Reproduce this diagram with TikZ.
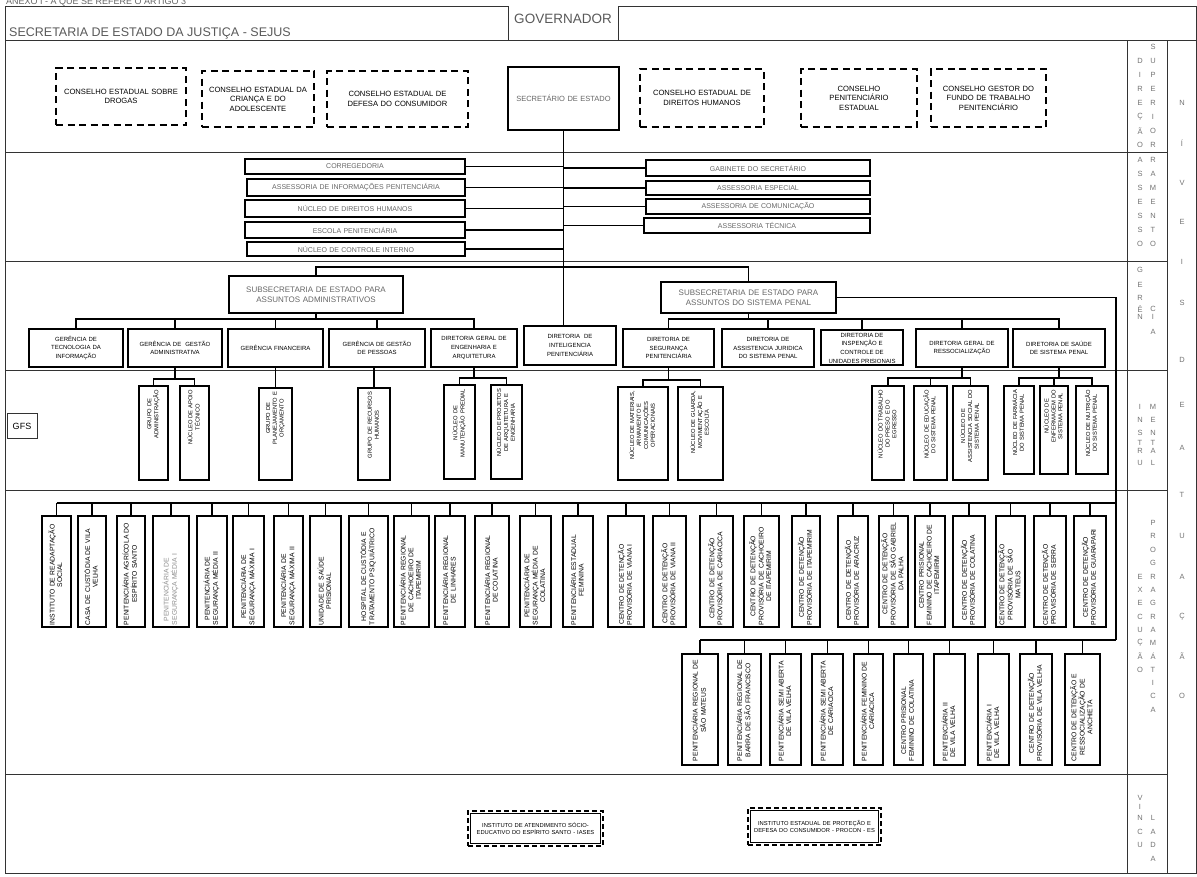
\documentclass[tikz,border=0pt]{standalone}
\usepackage{fontspec}
\setmainfont{Liberation Sans}
\usetikzlibrary{calc}
\newcommand\hb[7]{%
 \pgfmathsetmacro\bxw{(#4)-(#2)}\pgfmathsetmacro\bxh{(#5)-(#3)}\pgfmathsetmacro\bxt{\bxw-4}%
 \pgfmathsetmacro\bxcx{((#2)+(#4))/2}\pgfmathsetmacro\bxcy{((#3)+(#5))/2}%
 \node[#6, minimum width=\bxw pt, minimum height=\bxh pt, text width=\bxt pt] (#1) at (\bxcx,\bxcy) {#7};}
\newcommand\vb[9]{%
 \pgfmathsetmacro\bxw{(#4)-(#2)}\pgfmathsetmacro\bxh{(#5)-(#3)}\pgfmathsetmacro\bxt{\bxh-2*(#9)}%
 \pgfmathsetmacro\bxcx{((#2)+(#4))/2}\pgfmathsetmacro\bxcy{((#3)+(#5))/2}%
 \node[#6, rotate=90, minimum width=\bxh pt, minimum height=\bxw pt, text width=\bxt pt, align=#8] (#1) at (\bxcx,\bxcy) {\begin{tabular}{@{}c@{}}#7\end{tabular}};}
\tikzset{
 fr/.style={line width=0.9pt, draw=black!80},
 cn/.style={line width=1.3pt, draw=black},
 cbox/.style={draw, line width=2pt, dash pattern=on 7pt off 4.5pt, align=center, inner sep=1pt, font=\fontsize{7.6}{9.6}\selectfont},
 sbox/.style={draw, line width=1.8pt, align=center, inner sep=1pt},
 secb/.style={sbox, font=\fontsize{7.5}{9}\selectfont, text=black!60},
 asb/.style={sbox, line width=1.6pt, font=\fontsize{7}{8}\selectfont, text=black!60},
 subb/.style={sbox, font=\fontsize{8}{10.5}\selectfont, text=black!60},
 dirb/.style={sbox, line width=2pt, font=\fontsize{6}{8.6}\selectfont},
 insb/.style={draw, line width=1.8pt, inner sep=0.5pt, font=\fontsize{5.8}{6.8}\selectfont},
 exb/.style={draw, line width=1.7pt, inner sep=0.5pt, font=\fontsize{6.8}{7.6}\selectfont},
 lt/.style={font=\fontsize{7.5}{8}\selectfont, text=black!55, inner sep=0pt},
 vin/.style={draw, line width=1.6pt, dash pattern=on 5pt off 3pt, align=center, inner sep=1pt, font=\fontsize{5.8}{7.6}\selectfont},
}
\begin{document}
\begin{tikzpicture}[x=1pt,y=-1pt]
\useasboundingbox (0,0) rectangle (1197,876);
% header
\node[anchor=base west, font=\fontsize{9}{10}\selectfont, text=black!60, inner sep=0] (anexo) at (6,4.5) {ANEXO I - A QUE SE REFERE O ARTIGO 3};
\draw[fr] (5,40) -- (5,6) -- (508,6) -- (508,40);
\draw[fr] (618,40) -- (618,6) -- (1196,6) -- (1196,873) -- (5,873) -- (5,40) -- (1196,40);
\node[anchor=base west, font=\fontsize{12.5}{13}\selectfont, text=black!65, inner sep=0] (hdr) at (9,36) {SECRETARIA DE ESTADO DA JUSTIÇA - SEJUS};
\node[anchor=base, font=\fontsize{13.5}{14}\selectfont, text=black!65, inner sep=0] (gov) at (563,23) {GOVERNADOR};
\foreach \y in {152,261,370,490,774} \draw[fr] (5,\y) -- (1167,\y);
\draw[fr] (1127,40) -- (1127,873);
\draw[fr] (1167,40) -- (1167,873);
\node[draw=black!80, fill=white, line width=0.9pt, minimum width=30pt, minimum height=25pt, inner sep=0, font=\fontsize{9}{10}\selectfont] (gfs) at (22,426) {GFS};

% band 1
\hb{c1}{56}{68}{186}{125}{cbox}{CONSELHO ESTADUAL SOBRE\\DROGAS}
\hb{c2}{202}{71}{314}{127}{cbox}{CONSELHO ESTADUAL DA\\CRIANÇA E DO\\ADOLESCENTE}
\hb{c3}{327}{71}{468}{127}{cbox}{CONSELHO ESTADUAL DE\\DEFESA DO CONSUMIDOR}
\hb{sec}{508}{67}{619}{130}{secb}{SECRETÁRIO DE ESTADO}
\hb{c5}{640}{69}{764}{127}{cbox}{CONSELHO ESTADUAL DE\\DIREITOS HUMANOS}
\hb{c6}{801}{69}{917}{127}{cbox}{CONSELHO\\PENITENCIÁRIO\\ESTADUAL}
\hb{c7}{931}{69}{1046}{127}{cbox}{CONSELHO GESTOR DO\\FUNDO DE TRABALHO\\PENITENCIÁRIO}

% band 2
\hb{a1}{245}{159}{465}{174}{asb}{CORREGEDORIA}
\hb{a2}{247}{179}{465}{196}{asb}{ASSESSORIA DE INFORMAÇÕES PENITENCIÁRIA}
\hb{a3}{245}{200}{465}{217}{asb}{NÚCLEO DE DIREITOS HUMANOS}
\hb{a4}{245}{222}{465}{238}{asb}{ESCOLA PENITENCIÁRIA}
\hb{a5}{247}{242}{465}{256}{asb}{NÚCLEO DE CONTROLE INTERNO}
\hb{b1}{646}{160}{870}{176}{asb}{GABINETE DO SECRETÁRIO}
\hb{b2}{646}{181}{870}{195}{asb}{ASSESSORIA ESPECIAL}
\hb{b3}{646}{199}{870}{214}{asb}{ASSESSORIA DE COMUNICAÇÃO}
\hb{b4}{644}{218}{870}{233}{asb}{ASSESSORIA TÉCNICA}

% band 3
\hb{sa}{229}{276}{403}{313}{subb}{SUBSECRETARIA DE ESTADO PARA\\ASSUNTOS ADMINISTRATIVOS}
\hb{sp}{661}{282}{836}{313}{subb}{SUBSECRETARIA DE ESTADO PARA\\ASSUNTOS DO SISTEMA PENAL}
\hb{d1}{29}{329}{123}{367}{dirb}{GERÊNCIA DE\\TECNOLOGIA DA\\INFORMAÇÃO}
\hb{d2}{128}{329}{222}{367}{dirb}{GERÊNCIA DE~~GESTÃO\\ADMINISTRATIVA}
\hb{d3}{228}{329}{323}{367}{dirb}{GERÊNCIA FINANCEIRA}
\hb{d4}{329}{329}{425}{367}{dirb}{GERÊNCIA DE GESTÃO\\DE PESSOAS}
\hb{d5}{431}{329}{517}{367}{dirb}{DIRETORIA GERAL DE\\ENGENHARIA E\\ARQUITETURA}
\hb{d6}{524}{326}{616}{365}{dirb}{DIRETORIA~~DE\\INTELIGENCIA\\PENITENCIÁRIA}
\hb{d7}{623}{329}{714}{367}{dirb}{DIRETORIA DE\\SEGURANÇA\\PENITENCIÁRIA}
\hb{d8}{722}{329}{814}{367}{dirb}{DIRETORIA DE\\ASSISTENCIA JURIDICA\\DO SISTEMA PENAL}
\hb{d9}{821}{330}{903}{365}{dirb}{}
\node[anchor=north, align=center, inner sep=0, font=\fontsize{6}{8.6}\selectfont] (d9t) at ($(d9.north)+(0,4)$) {DIRETORIA DE\\INSPENÇÃO E\\CONTROLE DE\\UNIDADES PRISIONAIS};
\hb{d10}{916}{329}{1008}{367}{dirb}{DIRETORIA GERAL DE\\RESSOCIALIZAÇÃO}
\hb{d11}{1013}{329}{1105}{367}{dirb}{DIRETORIA DE SAÚDE\\DE SISTEMA PENAL}

% band 4
\vb{i1}{139}{386}{168}{480}{insb}{GRUPO DE\\ADMINISTRAÇÃO}{right}{4}
\vb{i2}{180}{386}{209}{480}{insb}{NÚCLEO DE APOIO\\TÉCNICO}{right}{4}
\vb{i3}{259}{388}{292}{480}{insb}{GRUPO DE\\PLANEJAMENTO E\\ORÇAMENTO}{right}{4}
\vb{i4}{358}{388}{390}{480}{insb}{GRUPO DE RECURSOS\\HUMANOS}{right}{4}
\vb{i5}{444}{385}{475}{479}{insb}{NÚCLEO DE\\MANUTENÇÃO PREDIAL}{right}{4}
\vb{i6}{491}{385}{522}{479}{insb}{NÚCLEO DE PROJETOS\\DE ARQUITETURA E\\ENGENHARIA}{right}{4}
\vb{i7}{618}{387}{668}{480}{insb}{NÚCLEO DE MATERIAIS,\\ARMAMENTO E\\COMUNICAÇÕES\\OPERACIONAIS}{right}{4}
\vb{i8}{678}{387}{723}{480}{insb}{NÚCLEO DE GUARDA,\\MOVIMENTAÇÃO E\\ESCOLTA}{right}{4}
\vb{i9}{872}{386}{904}{480}{insb}{NÚCLEO DO TRABALHO\\DO PRESO E DO\\EGRESSO}{right}{4}
\vb{i10}{914}{386}{947}{480}{insb}{NÚCLEO DE EDUCAÇÃO\\DO SISTEMA PENAL}{right}{4}
\vb{i11}{953}{386}{988}{480}{insb}{NÚCLEO DE\\ASSISTENCIA SOCIAL DO\\SISTEMA PENAL}{right}{4}
\vb{i12}{1004}{386}{1034}{474}{insb}{NÚCLEO DE FARMÁCIA\\DO SISTEMA PENAL}{right}{4}
\vb{i13}{1040}{386}{1068}{474}{insb}{NÚCLEO DE\\ENFERMAGEM DO\\SISTEMA PENAL}{right}{4}
\vb{i14}{1076}{386}{1108}{474}{insb}{NÚCLEO DE NUTRIÇÃO\\DO SISTEMA PENAL}{right}{4}

% band 5 upper
\vb{p1}{42}{516}{71}{627}{exb}{INSTITUTO DE READAPTAÇÃO\\SOCIAL}{left}{2}
\vb{p2}{78}{516}{106}{627}{exb}{CASA DE CUSTÓDIA DE VILA\\VELHA}{left}{2}
\vb{p3}{117}{516}{145}{627}{exb}{PENITENCIÁRIA AGRÍCOLA DO\\ESPÍRITO SANTO}{left}{2}
\vb{p4}{153}{516}{189}{627}{exb,text=black!45}{PENITENCIÁRIA DE\\SEGURANÇA MÉDIA I}{left}{2}
\vb{p5}{197}{516}{227}{627}{exb}{PENITENCIÁRIA DE\\SEGURANÇA MÉDIA II}{left}{2}
\vb{p6}{233}{516}{264}{627}{exb}{PENITENCIÁRIA DE\\SEGURANÇA MÁXIMA I}{left}{2}
\vb{p7}{274}{516}{303}{627}{exb}{PENITENCIÁRIA DE\\SEGURANÇA MÁXIMA II}{left}{2}
\vb{p8}{310}{516}{341}{627}{exb}{UNIDADE DE SAÚDE\\PRISIONAL}{left}{2}
\vb{p9}{349}{516}{388}{627}{exb}{HOSPITAL DE CUSTÓDIA E\\TRATAMENTO PSIQUIÁTRICO}{left}{2}
\vb{p10}{394}{516}{429}{627}{exb}{PENITENCIÁRIA REGIONAL\\DE CACHOEIRO DE\\ITAPEMIRIM}{left}{2}
\vb{p11}{435}{516}{465}{627}{exb}{PENITENCIÁRIA REGIONAL\\DE LINHARES}{left}{2}
\vb{p12}{475}{516}{509}{627}{exb}{PENITENCIÁRIA REGIONAL\\DE COLATINA}{left}{2}
\vb{p13}{520}{516}{551}{627}{exb}{PENITENCIÁRIA DE\\SEGURANÇA MÉDIA DE\\COLATINA}{left}{2}
\vb{p14}{563}{516}{593}{627}{exb}{PENITENCIÁRIA ESTADUAL\\FEMININA}{left}{2}
\vb{p15}{608}{516}{644}{627}{exb}{CENTRO DE DETENÇÃO\\PROVISÓRIA DE VIANA I}{left}{2}
\vb{p16}{653}{516}{686}{627}{exb}{CENTRO DE DETENÇÃO\\PROVISÓRIA DE VIANA II}{left}{2}
\vb{p17}{700}{516}{733}{627}{exb}{CENTRO DE DETENÇÃO\\PROVISÓRIA DE CARIACICA}{left}{2}
\vb{p18}{744}{516}{779}{627}{exb}{CENTRO DE DETENÇÃO\\PROVISÓRIA DE CACHOEIRO\\DE ITAPEMIRIM}{left}{2}
\vb{p19}{792}{516}{820}{627}{exb}{CENTRO DE DETENÇÃO\\PROVISÓRIA DE ITAPEMIRIM}{left}{2}
\vb{p20}{838}{516}{868}{627}{exb}{CENTRO DE DETENÇÃO\\PROVISÓRIA DE ARACRUZ}{left}{2}
\vb{p21}{879}{516}{908}{627}{exb}{CENTRO DE DETENÇÃO\\PROVISÓRIA DE SÃO GABRIEL\\DA PALHA}{left}{2}
\vb{p22}{915}{516}{945}{627}{exb}{CENTRO PRISIONAL\\FEMININO DE CACHOEIRO DE\\ITAPEMIRIM}{left}{2}
\vb{p23}{953}{516}{985}{627}{exb}{CENTRO DE DETENÇÃO\\PROVISÓRIA DE COLATINA}{left}{2}
\vb{p24}{996}{516}{1025}{627}{exb}{CENTRO DE DETENÇÃO\\PROVISÓRIA DE SÃO\\MATEUS}{left}{2}
\vb{p25}{1034}{516}{1066}{627}{exb}{CENTRO DE DETENÇÃO\\PROVISÓRIA DE SERRA}{left}{2}
\vb{p26}{1074}{516}{1106}{627}{exb}{CENTRO DE DETENÇÃO\\PROVISÓRIA DE GUARAPARI}{left}{2}

% band 5 lower
\vb{q1}{682}{654}{718}{765}{exb}{PENITENCIÁRIA REGIONAL DE\\SÃO MATEUS}{left}{4}
\vb{q2}{728}{654}{761}{765}{exb}{PENITENCIÁRIA REGIONAL DE\\BARRA DE SÃO FRANCISCO}{left}{4}
\vb{q3}{770}{654}{801}{765}{exb}{PENITENCIÁRIA SEMI ABERTA\\DE VILA VELHA}{left}{4}
\vb{q4}{812}{654}{843}{765}{exb}{PENITENCIÁRIA SEMI ABERTA\\DE CARIACICA}{left}{4}
\vb{q5}{854}{654}{883}{765}{exb}{PENITENCIÁRIA FEMININO DE\\CARIACICA}{left}{4}
\vb{q6}{894}{654}{923}{765}{exb}{CENTRO PRISIONAL\\FEMININO DE COLATINA}{left}{4}
\vb{q7}{934}{654}{965}{765}{exb}{PENITENCIÁRIA II\\DE VILA VELHA}{left}{4}
\vb{q8}{978}{654}{1009}{765}{exb}{PENITENCIÁRIA I\\DE VILA VELHA}{left}{4}
\vb{q9}{1020}{654}{1052}{765}{exb}{CENTRO DE DETENÇÃO\\PROVISÓRIA DE VILA VELHA}{left}{4}
\vb{q10}{1065}{654}{1100}{765}{exb}{CENTRO DE DETENÇÃO E\\RESSOCIALIZAÇÃO DE\\ANCHIETA}{left}{4}

% band 6
\hb{v1}{468}{811}{603}{846}{vin}{INSTITUTO DE ATENDIMENTO SÓCIO-\\EDUCATIVO DO ESPÍRITO SANTO - IASES}
\hb{v2}{748}{808}{881}{845}{vin}{INSTITUTO ESTADUAL DE PROTEÇÃO E\\DEFESA DO CONSUMIDOR - PROCON - ES}
\foreach \n in {v1,v2} \draw[line width=0.8pt] ([shift={(3,3)}]\n.north west) rectangle ([shift={(-3,-3)}]\n.south east);

% connectors
\draw[cn] (sec.south) -- (sec.south |- d6.north);
\foreach \n in {a1,a2,a3,a4,a5} \draw[cn] (\n.east) -- (\n.east -| sec.south);
\foreach \n in {b1,b2,b3,b4} \draw[cn] (\n.west) -- (\n.west -| sec.south);
\coordinate (y267) at (0,267);
\draw[cn] (sa.north) -- (sa.north |- y267) -- (sp.north |- y267) -- (sp.north);
\coordinate (y319) at (0,319);
\draw[cn] (sa.south) -- (sa.south |- y319);
\draw[cn] (d1.north) -- (d1.north |- y319) -- (d5.north |- y319) -- (d5.north);
\foreach \n in {d2,d3,d4} \draw[cn] (\n.north) -- (\n.north |- y319);
\draw[cn] (sp.south) -- (sp.south |- y319);
\draw[cn] (d7.north) -- (d7.north |- y319) -- (d11.north |- y319) -- (d11.north);
\foreach \n in {d8,d9,d10} \draw[cn] (\n.north) -- (\n.north |- y319);
% band 4 connectors
\coordinate (y379) at (0,379);
\draw[cn] (d2.south) -- (d2.south |- y379);
\draw[cn] (i1.east) -- (i1.east |- y379) -- (i2.east |- y379) -- (i2.east);
\draw[cn] (i3.east) -- (i3.east |- d3.south);
\draw[cn] (i4.east) -- (i4.east |- d4.south);
\coordinate (y378) at (0,378);
\draw[cn] (d5.south) -- (d5.south |- y378);
\draw[cn] (i5.east) -- (i5.east |- y378) -- (i6.east |- y378) -- (i6.east);
\coordinate (y380) at (0,380);
\draw[cn] (d7.south) -- (d7.south |- y380);
\draw[cn] (i7.east) -- (i7.east |- y380) -- (i8.east |- y380) -- (i8.east);
\draw[cn] (d10.south) -- (d10.south |- y378);
\draw[cn] (i9.east) -- (i9.east |- y378) -- (i11.east |- y378) -- (i11.east);
\draw[cn] (i10.east) -- (i10.east |- y378);
\draw[cn] (d11.south) -- (d11.south |- y378);
\draw[cn] (i12.east) -- (i12.east |- y378) -- (i14.east |- y378) -- (i14.east);
\draw[cn] (i13.east) -- (i13.east |- y378);
% band 5 connectors
\coordinate (vr) at (1116,640);
\draw[cn] (sp.east) -| (vr);
\coordinate (y503) at (0,503);
\draw[cn] (p1.east |- y503) -- (vr |- y503);
\foreach \i in {1,...,26} \draw[cn] (p\i.east) -- (p\i.east |- y503);
\draw[cn] (q1.east |- vr) -- (vr);
\foreach \i in {1,...,10} \draw[cn] (q\i.east) -- (q\i.east |- vr);

% right column letters
\node[lt] at (1153,47) {S};
\foreach \a/\b/\y in {D/U/61, I/P/75, R/E/89, E/R/103, Ç/I/117, Ã/O/131, O/R/145,
  A/R/160, S/A/174, S/M/188, E/E/202, S/N/216, S/T/230, O/O/244,
  Ê/C/309, N/I/317,
  I/M/407, N/E/420, S/N/433, T/T/443, R/A/451, U/L/463,
  E/R/577, X/A/590, E/G/603, C/R/617, U/A/630, Ç/M/643, Ã/Á/656, O/T/670,
  N/L/818, C/A/832, U/D/845}
  {\node[lt] at (1140,\y) {\a}; \node[lt] at (1153,\y) {\b};}
\foreach \a/\y in {G/270, E/285, R/298, V/798, I/807}
  \node[lt] at (1140,\y) {\a};
\foreach \b/\y in {A/332, P/523, R/536, O/550, G/563, I/683, C/696, A/710, A/859}
  \node[lt] at (1153,\y) {\b};
\foreach \a/\y in {N/103, Í/143, V/183, E/222, I/262, S/303, D/360, E/405, A/448, T/495, U/536, A/577, Ç/617, Ã/656, O/696}
  \node[lt] at (1182,\y) {\a};
\end{tikzpicture}
\end{document}
